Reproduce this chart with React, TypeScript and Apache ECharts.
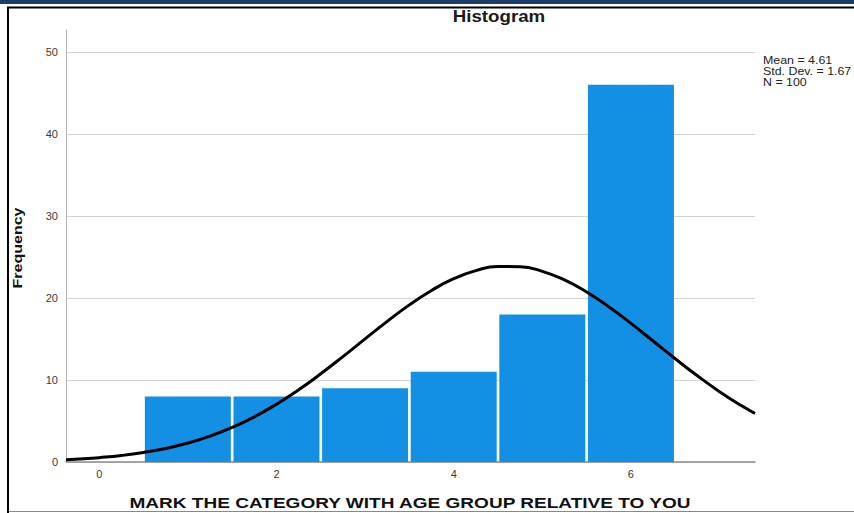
import { useEffect, useRef } from "react";
import * as echarts from "echarts";

const binCenters = [1, 2, 3, 4, 5, 6];
const frequencies = [8, 8, 9, 11, 18, 46];
const curveX = [
  -0.375, -0.125, 0, 0.25, 0.5, 0.75, 1, 1.25, 1.5, 1.75, 2, 2.25, 2.5, 2.75, 3, 3.25, 3.5, 3.75,
  4, 4.25, 4.5, 4.75, 5, 5.25, 5.5, 5.75, 6, 6.25, 6.5, 6.75, 7, 7.25, 7.4,
];
const curveY = [
  0.28, 0.44, 0.53, 0.79, 1.16, 1.65, 2.31, 3.16, 4.22, 5.51, 7.05, 8.8, 10.76, 12.85, 15.01, 17.15, 19.16, 20.92,
  22.35, 23.34, 23.84, 23.81, 23.25, 22.2, 20.73, 18.93, 16.9, 14.75, 12.59, 10.51, 8.58, 6.85, 5.92,
];
const xTickLabels = ["0", "2", "4", "6"];
const yTickLabels = ["0", "10", "20", "30", "40", "50"];
const statLines = ["Mean = 4.61", "Std. Dev. = 1.67", "N = 100"];
const titleText = "Histogram";
const xName = "MARK THE CATEGORY WITH AGE GROUP RELATIVE TO YOU";
const yName = "Frequency";

const FONT = "'Liberation Sans', Arial, sans-serif";

export default function App() {
  const ref = useRef<HTMLDivElement>(null);
  useEffect(() => {
    if (!ref.current) return;
    const chart = echarts.init(ref.current, undefined, { renderer: "svg" });
    const fmt = (labels: string[]) => (v: number) => {
      const s = String(Math.round(v * 1000) / 1000);
      return labels.includes(s) ? s : "";
    };
    chart.setOption({
      animation: false,
      backgroundColor: "#ffffff",
      grid: { left: 66, top: 30, width: 689, height: 432, containLabel: false },
      xAxis: {
        type: "value",
        min: -0.375,
        max: 7.4,
        axisLine: { show: true, onZero: false, lineStyle: { color: "#8c8c8c", width: 1.5 } },
        axisTick: { show: false },
        splitLine: { show: false },
        axisLabel: {
          formatter: fmt(xTickLabels),
          color: "#3a3a3a",
          fontFamily: FONT,
          fontSize: 11,
          margin: 6,
          showMinLabel: false,
          showMaxLabel: false,
        },
      },
      yAxis: {
        type: "value",
        min: 0,
        max: 52.68,
        axisLine: { show: true, onZero: false, lineStyle: { color: "#b4b4b4", width: 1 } },
        axisTick: { show: false },
        splitLine: {
          show: true,
          lineStyle: {
            color: ["#d4d4d4", "#d4d4d4", "#d4d4d4", "#d4d4d4", "#d4d4d4", "#d4d4d4", "rgba(0,0,0,0)"],
            width: 1,
          },
        },
        axisLabel: {
          formatter: fmt(yTickLabels),
          color: "#3a3a3a",
          fontFamily: FONT,
          fontSize: 11,
          margin: 8,
          showMaxLabel: false,
        },
      },
      series: [
        {
          type: "bar",
          data: binCenters.map((c, i) => [c, frequencies[i]]),
          barWidth: 86,
          itemStyle: { color: "#1390e4" },
          z: 2,
        },
        {
          type: "line",
          data: curveX.map((x, i) => [x, curveY[i]]),
          smooth: 0.5,
          showSymbol: false,
          symbol: "none",
          lineStyle: { color: "#000000", width: 3 },
          clip: true,
          z: 3,
        },
      ],
      graphic: [
        { type: "rect", shape: { x: 0, y: 0, width: 854, height: 4 }, style: { fill: "#1c3c6c" }, silent: true },
        { type: "line", shape: { x1: 7, y1: 7.5, x2: 854, y2: 7.5 }, style: { stroke: "#000", lineWidth: 2 }, silent: true },
        { type: "line", shape: { x1: 8, y1: 7, x2: 8, y2: 513 }, style: { stroke: "#000", lineWidth: 2 }, silent: true },
        { type: "line", shape: { x1: 9, y1: 511.5, x2: 854, y2: 511.5 }, style: { stroke: "#888", lineWidth: 1 }, silent: true },
        {
          type: "text",
          x: 499,
          y: 16.5,
          scaleX: 1.17,
          style: { text: titleText, align: "center", verticalAlign: "middle", fontFamily: FONT, fontWeight: "bold", fontSize: 16, fill: "#1a1a1a" },
          silent: true,
        },
        {
          type: "text",
          x: 410,
          y: 502.5,
          scaleX: 1.27,
          style: { text: xName, align: "center", verticalAlign: "middle", fontFamily: FONT, fontWeight: "bold", fontSize: 15, fill: "#111" },
          silent: true,
        },
        {
          type: "text",
          x: 17.5,
          y: 248,
          rotation: Math.PI / 2,
          scaleY: 0.8,
          style: { text: yName, align: "center", verticalAlign: "middle", fontFamily: FONT, fontWeight: "bold", fontSize: 16, fill: "#111" },
          silent: true,
        },
        ...statLines.map((t, i) => ({
          type: "text",
          x: 763,
          y: 60 + i * 11,
          scaleX: 1.24,
          style: { text: t, align: "left", verticalAlign: "middle", fontFamily: FONT, fontSize: 10, fill: "#222" },
          silent: true,
        })),
      ],
    });
    return () => chart.dispose();
  }, []);
  return <div ref={ref} style={{ position: "absolute", left: 0, top: 0, width: 854, height: 513 }} />;
}
